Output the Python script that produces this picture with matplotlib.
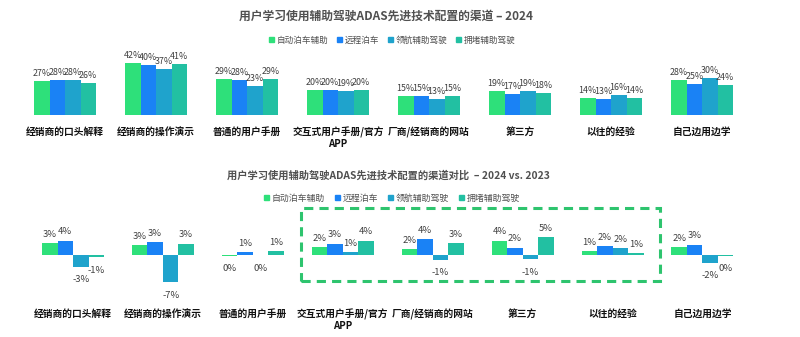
import matplotlib
matplotlib.use("Agg")
import matplotlib.pyplot as plt
import matplotlib.transforms as mtransforms
from matplotlib.patches import Patch, Rectangle
import numpy as np

plt.rcParams['font.family'] = ['Noto Sans CJK SC', 'DejaVu Sans']

categories = ['经销商的口头解释', '经销商的操作演示', '普通的用户手册', '交互式用户手册/官方\nAPP',
              '厂商/经销商的网站', '第三方', '以往的经验', '自己边用边学']
series = ['自动泊车辅助', '远程泊车', '领航辅助驾驶', '拥堵辅助驾驶']
colors = ['#2ee07a', '#1a82f5', '#1fa3cc', '#22c0a2']

# 2024 share (%) per channel, one list per feature
auto_park_2024 = [27, 42, 29, 20, 15, 19, 14, 28]
remote_park_2024 = [28, 40, 28, 20, 15, 17, 13, 25]
nav_assist_2024 = [28, 37, 23, 19, 13, 19, 16, 30]
traffic_assist_2024 = [26, 41, 29, 20, 15, 18, 14, 24]

# change vs 2023 (percentage points)
auto_park_diff = [3.2, 2.7, -0.3, 2.2, 1.6, 3.9, 1.0, 2.1]
remote_park_diff = [3.9, 3.4, 0.8, 3.1, 4.4, 2.0, 2.4, 2.8]
nav_assist_diff = [-3.2, -7.4, -0.1, 0.7, -1.3, -1.2, 1.9, -2.2]
traffic_assist_diff = [-0.6, 3.1, 1.0, 3.9, 3.2, 4.8, 0.6, -0.2]

top_vals = [auto_park_2024, remote_park_2024, nav_assist_2024, traffic_assist_2024]
diff_vals = [auto_park_diff, remote_park_diff, nav_assist_diff, traffic_assist_diff]

H = 337.0
fig = plt.figure(figsize=(8, 3.37), dpi=100)
fig.patch.set_facecolor('white')

x = np.arange(len(categories))

# ---- top chart: 2024 ----
ax1 = fig.add_axes([0, 1 - 115 / H, 1, 65 / H])
w1 = 15.5 / 91
for k, vals in enumerate(top_vals):
    xs = x + (k - 1.5) * w1
    ax1.bar(xs, vals, width=w1, color=colors[k])
    for xi, v in zip(xs, vals):
        ax1.annotate(f'{v}%', (xi, v), xytext=(0, 2), textcoords='offset points',
                     ha='center', va='bottom', fontsize=6.4, color='#404040')
ax1.set_xlim(-65 / 91, 7 + 98 / 91)
ax1.set_ylim(0, 52)
ax1.axis('off')

tr1 = mtransforms.blended_transform_factory(ax1.transData, fig.transFigure)
for xi, c in zip(x, categories):
    ax1.text(xi, 1 - 127 / H, c, transform=tr1, ha='center', va='top',
             fontsize=7, fontweight='bold', color='#111111', linespacing=1.15)

fig.text(0.482, 1 - 16 / H, '用户学习使用辅助驾驶ADAS先进技术配置的渠道 – 2024',
         ha='center', va='center', fontsize=8.5, fontweight='bold', color='#505050')

handles = [Patch(color=c, label=s) for c, s in zip(colors, series)]
fig.legend(handles=handles, loc='center', bbox_to_anchor=(0.49, 1 - 40 / H), ncol=4,
           frameon=False, fontsize=6.2, handlelength=0.6, handleheight=0.6,
           handletextpad=0.3, columnspacing=1.0, labelcolor='#505050')

# ---- bottom chart: 2024 vs 2023 ----
s2 = 3.7
ax2 = fig.add_axes([0, 1 - (255 + 9.5 * s2) / H, 1, 21.5 * s2 / H])
w2 = 15.5 / 89.9
for k, vals in enumerate(diff_vals):
    xs = x + (k - 1.5) * w2
    ax2.bar(xs, vals, width=w2, color=colors[k])
    for xi, v in zip(xs, vals):
        lab = f'{round(v):d}%'
        if v > 0:
            ax2.annotate(lab, (xi, v), xytext=(0, 3), textcoords='offset points',
                         ha='center', va='bottom', fontsize=6.8, color='#404040')
        else:
            ax2.annotate(lab, (xi, v), xytext=(0, -6), textcoords='offset points',
                         ha='center', va='top', fontsize=6.8, color='#404040')
ax2.set_xlim(-73 / 89.9, 7 + 97.5 / 89.9)
ax2.set_ylim(-9.5, 12)
ax2.axis('off')

tr2 = mtransforms.blended_transform_factory(ax2.transData, fig.transFigure)
for xi, c in zip(x, categories):
    ax2.text(xi, 1 - 309 / H, c, transform=tr2, ha='center', va='top',
             fontsize=7, fontweight='bold', color='#111111', linespacing=1.15)

fig.text(0.485, 1 - 175 / H, '用户学习使用辅助驾驶ADAS先进技术配置的渠道对比  – 2024 vs. 2023',
         ha='center', va='center', fontsize=7.4, fontweight='bold', color='#505050')
fig.legend(handles=handles, loc='center', bbox_to_anchor=(0.49, 1 - 198 / H), ncol=4,
           frameon=False, fontsize=6.4, handlelength=0.6, handleheight=0.6,
           handletextpad=0.3, columnspacing=1.1, labelcolor='#505050')

# dashed highlight box
fig.patches.append(Rectangle((301 / 800, 1 - 281 / H), 359 / 800, 73 / H,
                             transform=fig.transFigure, fill=False,
                             edgecolor='#2ec46e', linewidth=2.2, linestyle=(0, (3, 2))))

fig.savefig('out.png', dpi=100)
